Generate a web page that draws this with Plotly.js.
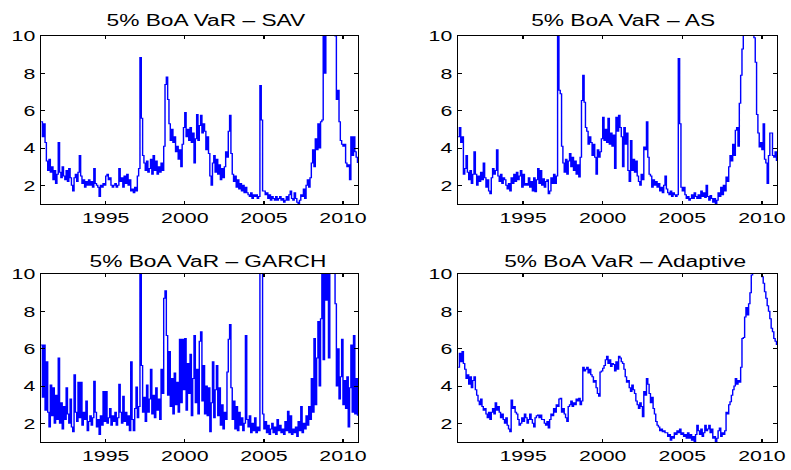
<!DOCTYPE html>
<html>
<head>
<meta charset="utf-8">
<script src="https://cdn.plot.ly/plotly-3.0.1.min.js"></script>
<style>
html,body{margin:0;padding:0;background:#fff;overflow:hidden;width:791px;height:470px;}
#chart{width:557px;height:470px;transform:scaleX(1.4201);transform-origin:0 0;}
</style>
</head>
<body>
<div id="chart"></div>
<script>
// Monthly samples, Dec 1990 .. Dec 2010
const startYear = 1990, startMonth = 11; // December 1990
const titles = ["5% BoA VaR \u2013 SAV", "5% BoA VaR \u2013 AS", "5% BoA VaR \u2013 GARCH", "5% BoA VaR \u2013 Adaptive"];
const xTicks = [1995, 2000, 2005, 2010];
const yTicks = [2, 4, 6, 8, 10];

const sav = [5.4,
4.6,5.3,4.3,3.3,2.8,3.4,2.7,3.0,2.3,2.8,2.1,2.6,
4.3,2.7,2.4,3.0,2.5,2.3,2.8,2.2,2.9,2.4,2.0,1.7,
2.4,2.6,2.2,2.7,3.6,2.5,2.1,2.3,1.9,2.2,2.0,2.3,
2.0,2.2,1.9,2.9,2.1,2.0,1.9,1.4,2.0,1.9,2.1,2.0,
2.5,2.6,2.3,2.4,2.0,1.9,2.0,2.1,1.9,2.0,2.9,2.2,
2.4,1.9,2.5,2.1,2.6,2.0,2.3,1.7,1.8,1.6,1.9,1.7,
2.5,2.9,8.85,5.6,3.6,3.2,2.8,3.3,2.7,2.9,3.4,2.6,
3.6,2.8,3.3,2.6,3.0,2.7,3.2,2.8,4.1,7.4,7.8,6.6,
5.3,4.4,5.0,4.3,4.6,3.8,4.1,3.4,3.9,3.0,4.2,5.1,
5.9,4.6,5.0,4.4,5.1,4.3,4.8,3.2,4.5,5.8,4.4,5.2,
5.75,4.8,5.3,4.9,3.9,4.6,3.7,2.5,2.0,3.2,3.6,2.7,
3.4,2.6,3.1,2.3,2.9,2.4,3.0,3.8,3.5,4.9,5.75,3.7,
2.6,2.2,2.5,1.9,2.3,1.8,2.1,1.7,2.0,1.6,1.9,1.6,
1.5,1.4,1.6,1.3,1.5,1.4,1.5,1.3,1.4,7.35,5.5,1.7,
1.7,1.5,1.6,1.3,1.5,1.2,1.4,1.3,1.2,1.4,1.2,1.3,
1.4,1.2,1.3,1.1,1.2,1.4,1.2,1.5,1.7,1.3,1.2,1.6,
1.3,1.1,1.0,1.2,1.5,1.4,1.8,1.3,2.0,2.3,1.9,2.4,
3.2,3.9,3.0,4.5,3.9,5.3,4.0,5.4,5.5,12,8.0,12,
12,12,12,12,12,12,10,6.6,7.1,5.4,4.4,4.2,
4.1,4.2,3.2,3.0,3.1,2.3,4.6,3.6,4.6,3.8,3.5,3.2];

const as = [4.6,
5.1,4.3,4.6,2.6,2.9,3.6,2.7,2.3,2.8,2.1,2.6,3.8,
2.6,2.0,2.5,2.2,2.7,2.3,3.2,2.4,1.9,2.3,1.7,1.55,
2.4,2.9,2.6,2.8,3.9,2.5,2.2,2.6,2.1,2.4,2.3,2.0,
1.8,2.1,1.7,2.4,2.1,2.6,2.2,2.7,2.3,2.5,2.8,1.9,
2.6,2.0,2.1,2.0,2.4,1.9,2.2,1.7,2.4,1.65,2.3,2.9,
2.1,2.8,2.0,2.35,1.9,2.2,2.3,1.55,1.7,2.4,2.1,2.6,
2.1,2.5,10.5,7.1,6.9,4.1,3.2,2.7,3.4,2.6,3.3,3.7,
3.0,3.5,2.8,3.3,2.6,3.1,2.45,3.5,6.55,7.9,6.45,5.1,
4.9,4.2,4.6,4.3,3.6,4.2,3.5,2.6,3.9,3.5,3.8,4.5,
5.65,4.4,5.0,4.3,5.6,4.2,4.8,4.1,4.7,2.9,5.65,4.9,
5.75,5.1,4.6,3.0,5.1,4.2,4.8,2.8,2.2,4.4,2.8,3.4,
2.7,3.3,2.5,2.2,2.0,2.6,2.3,4.05,3.9,5.4,3.5,2.6,
2.5,1.9,2.3,2.0,2.2,1.9,2.1,1.7,1.9,1.6,2.0,2.5,
1.8,1.6,1.5,1.7,1.4,1.6,1.5,1.4,1.5,8.8,5.3,1.9,
1.7,1.9,1.5,1.3,1.4,1.2,1.3,1.5,1.3,1.6,1.4,1.3,
1.5,1.3,1.7,1.4,1.6,1.35,2.0,1.4,1.2,1.45,1.3,1.1,
1.3,1.0,1.2,1.6,1.4,1.9,1.5,2.0,1.7,2.45,2.2,3.0,
3.6,3.3,4.2,3.6,4.95,5.1,4.1,6.4,7.9,9.3,12,12,
12,12,12,12,12,12,9.9,8.6,5.8,4.8,4.05,4.3,
3.9,5.3,3.4,3.2,2.1,3.6,4.8,4.8,3.6,3.5,3.8,3.3];

const garch = [6.2,
3.4,6.2,2.7,5.3,2.6,1.8,4.05,2.4,3.9,2.0,3.5,2.2,
5.5,2.0,3.1,1.7,2.9,2.2,3.9,2.5,2.0,3.3,1.8,1.55,
4.6,2.6,2.1,4.2,2.3,4.2,1.9,2.6,2.2,3.2,1.6,2.1,
2.4,1.9,2.3,4.25,2.6,1.8,2.2,1.4,2.4,1.9,3.7,2.1,
3.7,2.0,2.3,2.8,1.9,2.4,2.1,2.6,1.9,2.3,4.1,2.6,
2.0,3.45,2.1,2.6,1.9,2.4,1.6,5.3,2.2,1.6,2.8,3.95,
2.3,2.9,10.5,5.1,2.6,3.4,2.1,4.05,2.6,3.3,4.9,2.5,
3.5,2.3,3.9,2.7,3.3,2.2,4.9,3.6,8.7,9.1,6.7,3.5,
5.85,2.9,4.4,2.5,4.7,3.0,4.2,2.6,6.5,3.1,6.5,3.8,
6.55,2.7,5.2,3.6,5.7,2.4,4.4,6.7,3.1,4.9,2.5,6.4,
6.9,3.2,5.1,2.5,4.0,2.4,3.9,1.55,3.1,5.3,2.3,3.8,
5.1,2.4,3.9,1.9,3.0,1.7,2.6,2.2,4.75,6.5,7.3,3.9,
2.2,3.2,1.7,2.9,1.6,2.6,1.9,2.3,1.6,2.0,6.7,2.2,
1.8,2.4,1.5,2.0,1.6,2.3,1.5,1.8,1.6,12,12,2.5,
1.7,2.1,1.5,1.9,1.4,1.7,2.0,1.5,1.8,1.4,2.2,1.6,
1.9,1.5,1.7,1.4,2.1,1.6,2.65,1.5,2.4,1.4,1.7,1.5,
1.8,1.3,2.1,1.6,2.9,1.5,2.0,1.7,2.4,1.9,2.9,2.2,
4.4,2.6,6.55,3.0,5.5,7.45,4.0,7.6,12,5.4,12,8.6,
12,5.5,12,12,12,12,8.4,4.0,6.0,3.3,4.5,6.5,
3.0,4.3,2.8,4.5,1.8,3.9,6.2,2.6,6.7,2.5,4.4,2.4];

const adaptive = [5.0,
5.75,5.3,5.85,5.2,4.9,4.4,4.6,4.1,4.5,3.9,4.3,4.5,
3.8,3.5,3.2,3.0,3.3,2.9,2.7,2.8,2.5,2.3,2.6,2.2,
2.6,2.8,2.5,3.1,2.7,2.9,2.6,2.3,2.5,2.2,2.0,2.3,
1.9,1.7,1.55,3.25,2.8,2.9,2.6,2.5,2.2,1.9,2.0,2.3,
2.1,2.5,2.3,2.0,2.2,2.5,2.2,2.0,1.8,2.3,2.4,2.45,
2.3,2.45,2.2,2.2,2.0,1.9,2.1,1.75,2.2,2.5,2.4,2.8,
2.6,3.0,2.9,3.3,3.35,2.6,2.8,2.5,2.3,2.1,2.9,3.0,
3.2,2.9,3.1,3.0,3.3,3.2,3.35,3.0,3.2,5.0,4.8,4.9,
5.0,4.7,4.9,4.6,4.5,4.2,4.3,3.9,3.6,3.45,4.75,4.8,
4.95,5.1,5.4,5.6,5.2,5.4,5.05,5.2,5.15,4.8,5.3,4.9,
5.6,5.5,5.3,5.2,4.9,4.5,4.2,4.3,3.9,3.7,4.05,3.8,
3.6,3.2,3.0,2.8,3.1,2.9,2.35,3.7,3.5,4.4,4.1,3.6,
3.1,3.4,2.8,2.5,2.1,1.9,1.8,1.6,1.7,1.55,1.6,1.5,
1.5,1.3,1.4,1.1,1.3,1.2,1.5,1.4,1.6,1.5,1.7,1.4,
1.5,1.3,1.4,1.2,1.5,1.2,1.4,1.1,1.3,0.9,1.4,1.9,
1.6,1.4,1.7,1.3,1.5,1.9,1.6,1.7,1.9,1.5,1.7,1.2,
1.3,0.95,1.2,1.6,1.75,1.3,1.5,1.4,1.6,2.6,2.5,3.0,
3.15,3.5,3.8,4.0,4.4,4.1,4.3,4.2,5.0,6.55,6.6,7.7,
8.2,7.8,8.4,9.0,9.95,10.5,11,11,10.8,10.6,10.3,10.1,
9.85,9.5,9.05,8.7,8.3,8.0,7.6,7.1,6.9,6.55,6.4,6.2];

// sample dates as decimal years (one per month)
const dates = sav.map((_, i) => startYear + (startMonth + i) / 12);

const series = [sav, as, garch, adaptive];
const traces = series.map((vals, k) => ({
  x: dates, y: vals, type: 'scatter', mode: 'lines',
  line: {color: '#0000ff', width: 1, shape: 'hv'},
  xaxis: k === 0 ? 'x' : 'x' + (k + 1),
  yaxis: k === 0 ? 'y' : 'y' + (k + 1),
  hoverinfo: 'skip', showlegend: false
}));

const FW = 791, FH = 470;
const xDom = [[41/FW, 358/FW], [458/FW, 777/FW]];
const yDom = [[1 - 204/FH, 1 - 36/FH], [1 - 442/FH, 1 - 274/FH]];
const tickFont = {family: 'Liberation Sans, Arial, sans-serif', size: 15, color: '#000'};

function axis(domain, range, vals, anchor) {
  return {
    domain: domain, range: range, anchor: anchor,
    tickmode: 'array', tickvals: vals, ticktext: vals.map(String),
    ticks: 'inside', ticklen: 3, tickwidth: 1, tickcolor: '#000',
    showline: true, linecolor: '#000', linewidth: 1, mirror: 'ticks',
    showgrid: false, zeroline: false, tickfont: tickFont, fixedrange: true
  };
}

const layout = {
  width: 557, height: 470,
  margin: {l: 0, r: 0, t: 0, b: 0},
  paper_bgcolor: '#fff', plot_bgcolor: '#fff',
  showlegend: false,
  annotations: []
};

const titleX = [206/FW, 624/FW, 208/FW, 626/FW];
const titleY = [1 - 20.5/FH, 1 - 20.5/FH, 1 - 261.5/FH, 1 - 261.5/FH];
for (let k = 0; k < 4; k++) {
  const col = k % 2, row = Math.floor(k / 2);
  const xn = k === 0 ? 'xaxis' : 'xaxis' + (k + 1);
  const yn = k === 0 ? 'yaxis' : 'yaxis' + (k + 1);
  const xa = k === 0 ? 'x' : 'x' + (k + 1);
  const ya = k === 0 ? 'y' : 'y' + (k + 1);
  layout[xn] = axis(xDom[col], [1990.91, 2010.95], xTicks, ya);
  layout[yn] = axis(yDom[row], [1, 10], yTicks, xa);
  layout.annotations.push({
    text: titles[k], xref: 'paper', yref: 'paper', x: titleX[k], y: titleY[k],
    xanchor: 'center', yanchor: 'middle', showarrow: false,
    font: {family: 'Liberation Sans, Arial, sans-serif', size: 16, color: '#000'}
  });
}

Plotly.newPlot('chart', traces, layout, {displayModeBar: false, staticPlot: true});
</script>
</body>
</html>
